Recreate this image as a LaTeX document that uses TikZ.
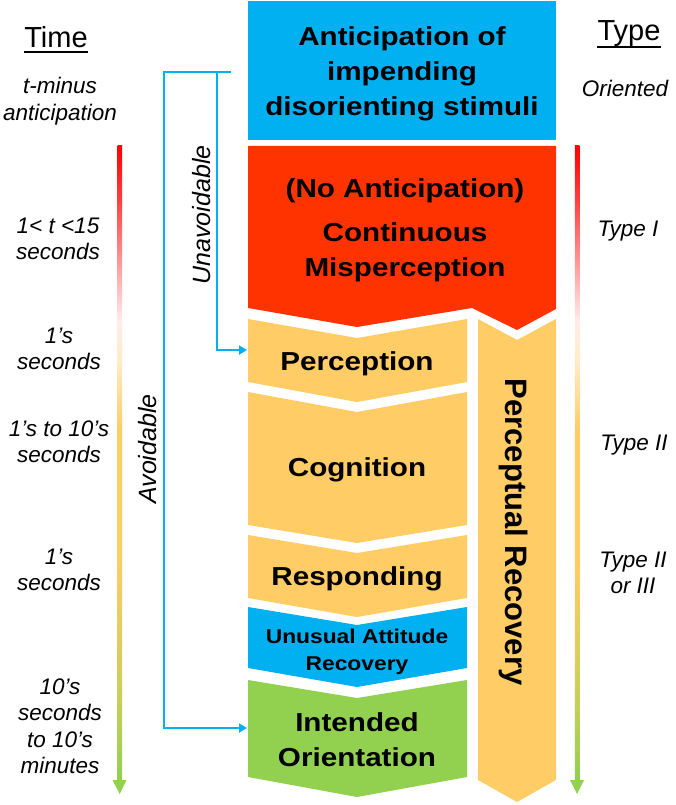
\documentclass[tikz,border=0pt]{standalone}
\usepackage{fontspec}
\setmainfont{Liberation Sans}
\newfontfamily\boxfont{Liberation Sans}[FakeStretch=1.14]
\usetikzlibrary{arrows.meta}
\definecolor{cblue}{HTML}{00B0F0}
\definecolor{cred}{HTML}{FF3300}
\definecolor{cyel}{HTML}{FFCC66}
\definecolor{cgreen}{HTML}{92D050}
\definecolor{tred}{HTML}{FF0000}
\colorlet{tpink}{tred!75!white}
\colorlet{tpale}{tred!8!white}
\colorlet{tlyel}{cyel!35!white}
\colorlet{tyg}{cyel!50!cgreen}
\pgfdeclareverticalshading{timeshade}{100bp}{color(0bp)=(cgreen); color(25.2bp)=(cgreen); color(31.4bp)=(tyg); color(42.5bp)=(cyel); color(52.7bp)=(cyel); color(58.2bp)=(tlyel); color(61.3bp)=(tpale); color(70.75bp)=(tpink); color(75bp)=(tred); color(100bp)=(tred)}
\begin{document}
\begin{tikzpicture}[x=1pt,y=-1pt,
  btxt/.style={font={\boxfont\bfseries\fontsize{26}{35}\selectfont},align=center,inner sep=0pt},
  stxt/.style={font={\boxfont\bfseries\fontsize{20}{27}\selectfont},align=center,inner sep=0pt},
  rtxt/.style={font={\bfseries\fontsize{31}{35}\selectfont},inner sep=0pt},
  itxt/.style={font={\itshape\fontsize{22.5}{26.5}\selectfont},align=center,inner sep=0pt},
  vtxt/.style={font={\itshape\fontsize{25}{30}\selectfont},inner sep=0pt},
  headtxt/.style={font={\fontsize{29}{34}\selectfont},inner sep=0pt},
  conn/.style={draw=cblue,line width=2.5pt},
  arrowend/.style={-{Triangle[length=8pt,width=9pt]}},
  timebar/.style={shading=timeshade}
]
\useasboundingbox (0,0) rectangle (676,805);
\fill[white] (0,0) rectangle (676,805);

% column shapes
\fill[cblue] (248,1) rectangle (556,140);
\fill[cred] (248,146) -- (556,146) -- (556,309) -- (517,330) -- (472,308) -- (357,327) -- (248,308) -- cycle;
\fill[cyel] (248,319) -- (357,338) -- (467,319) -- (467,382) -- (357,402) -- (248,382) -- cycle;
\fill[cyel] (248,392) -- (357,412) -- (467,392) -- (467,525) -- (357,543) -- (248,525) -- cycle;
\fill[cyel] (248,535) -- (357,553) -- (467,535) -- (467,598) -- (357,617) -- (248,598) -- cycle;
\fill[cblue] (248,607) -- (357,625) -- (467,607) -- (467,668) -- (357,687) -- (248,668) -- cycle;
\fill[cgreen] (248,680) -- (357,698) -- (467,680) -- (467,777) -- (357,797) -- (248,777) -- cycle;
\fill[cyel] (478,319) -- (517,340) -- (556,319) -- (556,780) -- (517,802) -- (478,780) -- cycle;

% box texts
\node[btxt] (ant) at (402,74) {Anticipation of\\impending\\disorienting stimuli};
\node[btxt] (noant) at (405,191) {(No Anticipation)};
\node[btxt] (misp) at (405,252) {Continuous\\Misperception};
\node[btxt] (perc) at (357,364) {Perception};
\node[btxt] (cogn) at (357,470) {Cognition};
\node[btxt] (resp) at (357,579) {Responding};
\node[stxt] (uar) at (357,652) {Unusual Attitude\\Recovery};
\node[btxt] (io) at (357,740) {Intended\\Orientation};
\node[rtxt,rotate=-90] (prec) at (514,532) {Perceptual Recovery};

% time bars
\shade[timebar] (117.5,146) rectangle (122,782);
\fill[cgreen] (112.5,780) -- (126.5,780) -- (119.75,794) -- cycle;
\shade[timebar] (574.75,146) rectangle (579.25,782);
\fill[cgreen] (570,780) -- (584,780) -- (577,794) -- cycle;

% headers
\node[headtxt] (timeh) at (56,37) {Time};
\draw[line width=1.8pt] ([yshift=-5pt]timeh.base west) -- ([yshift=-5pt]timeh.base east);
\node[headtxt] (typeh) at (629,34) {Type};
\draw[line width=1.8pt] ([yshift=-6pt]typeh.base west) -- ([yshift=-6pt]typeh.base east);

% time labels
\node[itxt] (l0) at (60,101) {t-minus\\anticipation};
\node[itxt] (l1) at (58,239) {1< t <15\\seconds};
\node[itxt] (l2) at (59,349) {1’s\\seconds};
\node[itxt] (l3) at (59,442) {1’s to 10’s\\seconds};
\node[itxt] (l4) at (59,570) {1’s\\seconds};
\node[itxt] (l5) at (60,726) {10’s\\seconds\\to 10’s\\minutes};

% type labels
\node[itxt] (r0) at (625,88) {Oriented};
\node[itxt] (r1) at (628,231) {Type I};
\node[itxt] (r2) at (634,445) {Type II};
\node[itxt] (r3) at (633,573) {Type II\\or III};

% connectors
\coordinate (cstart) at (231,72);
\coordinate (couter) at (164,72);
\coordinate (cinner) at (217,72);
\coordinate (percIn) at (247,350);
\coordinate (ioIn) at (247,728);
\draw[conn,arrowend] (cstart) -- (couter) |- (ioIn);
\draw[conn,arrowend] (cinner) |- (percIn);
\node[vtxt,rotate=90] (unav) at (202,215) {Unavoidable};
\node[vtxt,rotate=90] (av) at (148,449) {Avoidable};
\end{tikzpicture}
\end{document}
